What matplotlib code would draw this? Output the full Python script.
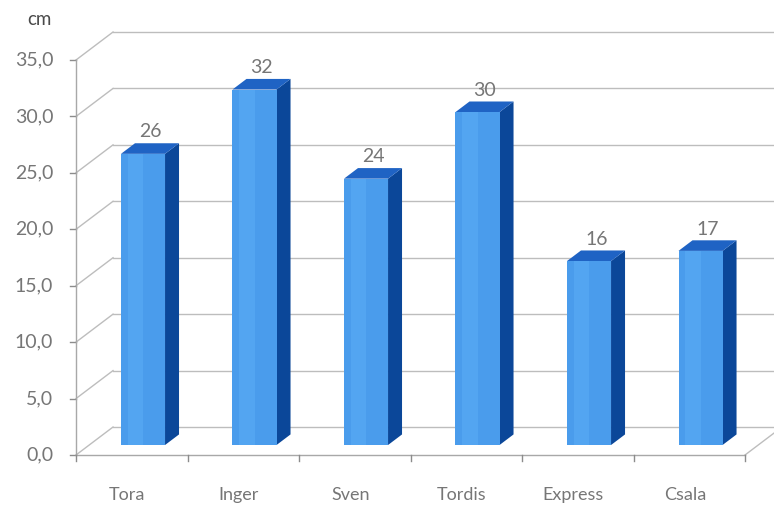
import matplotlib.pyplot as plt
from matplotlib.patches import Polygon

# data
names = ["Tora", "Inger", "Sven", "Tordis", "Express", "Csala"]
heights = [25.8, 31.5, 23.6, 29.5, 16.3, 17.2]
yticks = [0, 5, 10, 15, 20, 25, 30, 35]
unit = "cm"

# pseudo-3D projection: depth d in [0, 1] shifts right and up
DX = 0.332
DY = 2.48


def P(x, y, d):
    return (x + d * DX, y + d * DY)


fig = plt.figure(figsize=(7.74, 5.07), dpi=100)
ax = fig.add_axes([0, 0, 1, 1])
ax.set_xlim(-0.6816, 6.26)
ax.set_ylim(-4.607, 40.316)
ax.axis("off")

grid_c = "#bdbdbd"
text_c = "#767676"
n = len(names)
ymax = yticks[-1]

# back wall gridlines and left wall diagonals
for v in yticks:
    x0, y0 = P(0, v, 1)
    x1, y1 = P(n, v, 1)
    ax.plot([x0, x1], [y0, y1], color=grid_c, lw=1.0, zorder=1)
    ax.plot([0, x0], [v, y0], color=grid_c, lw=1.0, zorder=1)
    # tick on front axis
    ax.plot([-0.05, 0], [v, v], color="#8c8c8c", lw=1.0, zorder=2)
    ax.text(-0.205, v, f"{v:.1f}".replace(".", ","), ha="right", va="center",
            fontsize=14, color=text_c, family="Lato")

# front axis and floor
ax.plot([0, 0], [0, ymax], color="#a8a8a8", lw=1.0, zorder=2)
ax.plot([0, n], [0, 0], color="#a8a8a8", lw=1.0, zorder=2)
fx, fy = P(n, 0, 1)
ax.plot([n, fx], [0, fy], color=grid_c, lw=1.0, zorder=1)
for i in range(n + 1):
    ax.plot([i, i], [0, -0.5], color="#8c8c8c", lw=1.0, zorder=2)

ax.text(-0.33, 38.6, unit, ha="center", va="center", fontsize=13.5,
        color="#4a4a4a", family="Lato")

# bars
d0, d1 = 0.357, 0.735
w = 0.395
for i, (name, h) in enumerate(zip(names, heights)):
    x = i + 0.285
    front = [P(x, 0, d0), P(x + w, 0, d0), P(x + w, h, d0), P(x, h, d0)]
    side = [P(x + w, 0, d0), P(x + w, 0, d1), P(x + w, h, d1), P(x + w, h, d0)]
    top = [P(x, h, d0), P(x + w, h, d0), P(x + w, h, d1), P(x, h, d1)]
    ax.add_patch(Polygon(side, closed=True, fc="#0b4799", ec="none", zorder=3))
    ax.add_patch(Polygon(top, closed=True, fc="#1f63c4", ec="none", zorder=3))
    ax.add_patch(Polygon(front, closed=True, fc="#4a9cec", ec="none", zorder=4))
    stripe = [P(x + 0.06, 0, d0), P(x + 0.2, 0, d0),
              P(x + 0.2, h, d0), P(x + 0.06, h, d0)]
    ax.add_patch(Polygon(stripe, closed=True, fc="#5fb0f8", ec="none",
                         alpha=0.45, zorder=5))

    lx, ly = P(x + w / 2, h, d1)
    ax.text(lx - 0.06, ly + 1.0, f"{h:.0f}", ha="center", va="center",
            fontsize=14, color=text_c, family="Lato")
    ax.text(i + 0.46, -3.54, name, ha="center", va="center",
            fontsize=13, color=text_c, family="Lato")

fig.savefig("out.png", dpi=100)
